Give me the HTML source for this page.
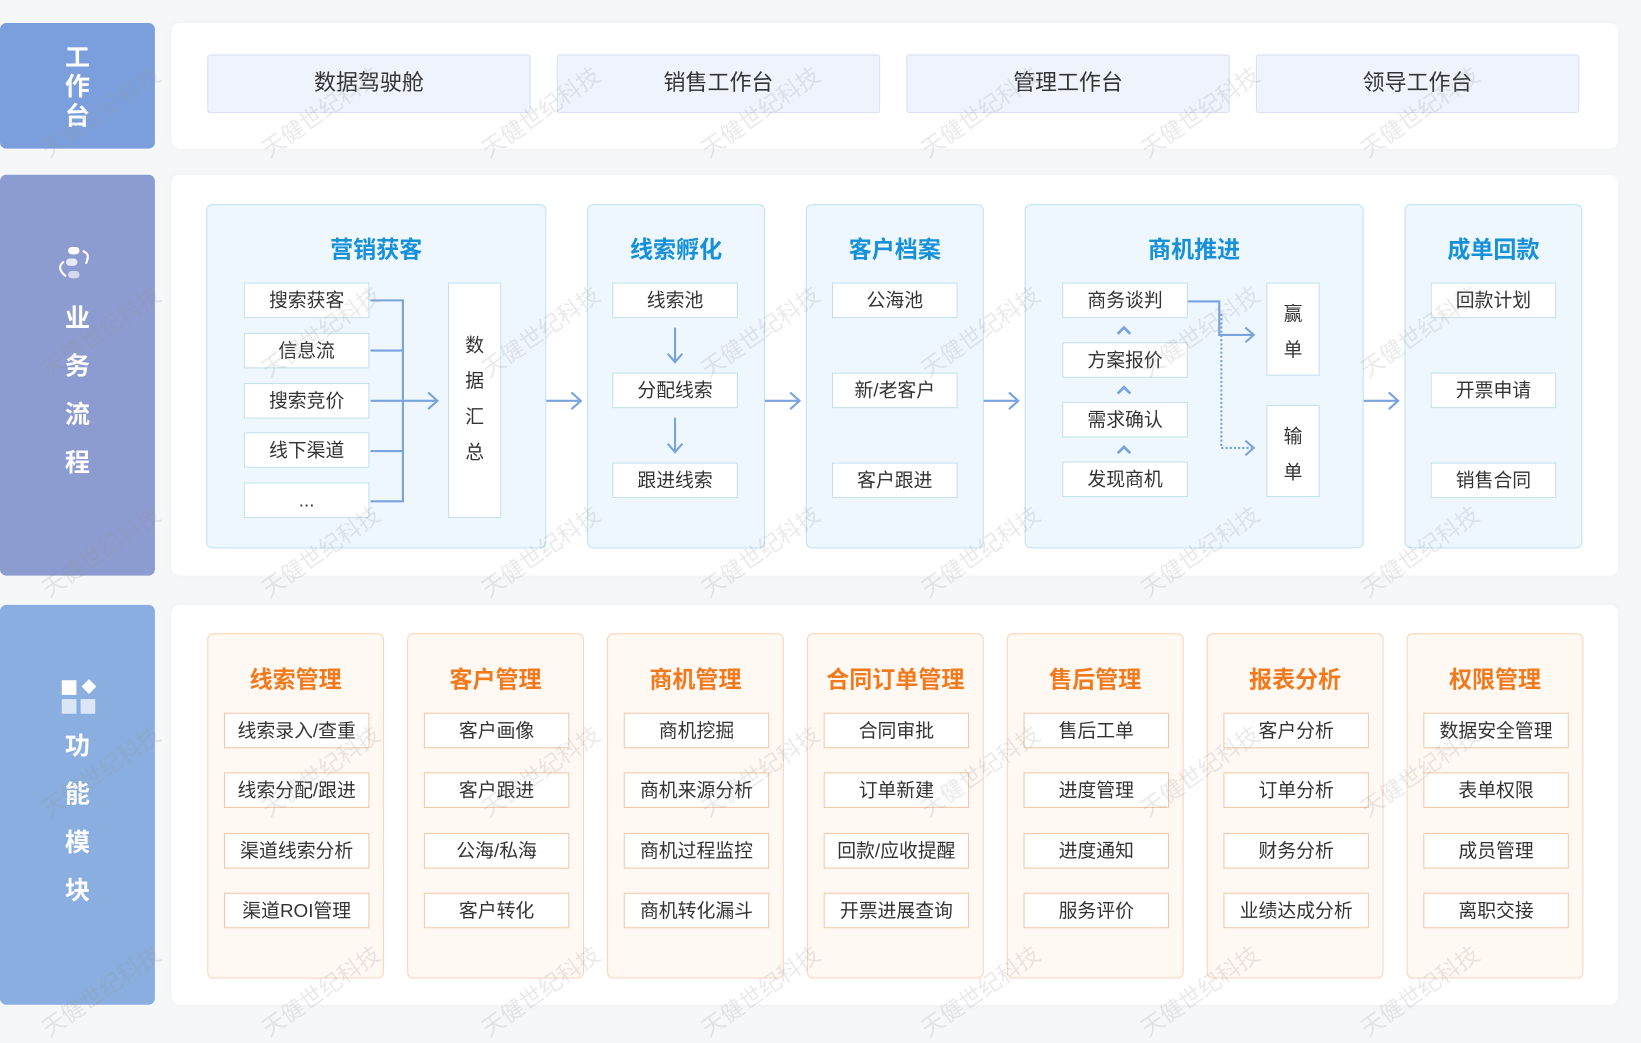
<!DOCTYPE html>
<html><head><meta charset="utf-8"><style>
*{margin:0;padding:0;box-sizing:border-box}
html,body{width:1641px;height:1029px;overflow:hidden;background:#f6f7f9}
#w{position:absolute;left:0;top:0;width:1568px;height:983px;transform:scale(1.04656);transform-origin:0 0;font-family:"Liberation Sans","Noto Sans CJK SC",sans-serif}
.a{position:absolute}
.side{position:absolute;left:0;width:148px;border-radius:6px;color:#fff;font-weight:bold;font-size:24px;text-align:center;line-height:46px}
.pan{position:absolute;left:164px;width:1382px;background:#fff;border-radius:8px;box-shadow:0 0 8px rgba(0,0,0,.03)}
.tab{position:absolute;top:52px;height:56px;width:309px;background:#eef3fc;border:1px solid #d7e1f4;border-radius:3px;font-size:21px;color:#333;text-align:center;line-height:54px}
.fb{position:absolute;top:195px;height:329px;background:#eef7fd;border:1px solid #bfe2f2;border-radius:6px}
.t{position:absolute;left:0;right:0;text-align:center;font-size:22px;font-weight:bold}
.t span{position:relative;display:inline-block;padding:0 4px}
.t span:after{content:"";position:absolute;left:-2px;right:-14px;bottom:1px;height:8px;border-radius:4px;z-index:-1}
.bt span{color:#1690d8}.bt span:after{background:linear-gradient(90deg,#8fd0f0,#e4f4fc)}
.ot span{color:#f27a1d}.ot span:after{background:linear-gradient(90deg,#fbc39a,#fff1e6)}
.it{position:absolute;width:120px;height:34px;background:#fff;border:1px solid #c3e0ef;font-size:18px;color:#333;text-align:center;line-height:32px}
.vb{position:absolute;background:#fff;border:1px solid #c3e0ef;font-size:18px;color:#333;text-align:center}
.ob{position:absolute;top:605px;height:330px;width:169px;background:#fff8f3;border:1px solid #fbd4b9;border-radius:6px}
.oi{position:absolute;left:15px;width:139px;height:34px;background:#fff;border:1px solid #f4c6a6;font-size:18px;color:#333;text-align:center;line-height:32px}
.wm{position:absolute;font-size:22px;color:rgba(150,150,150,.2);transform:rotate(-35deg);white-space:nowrap}
</style></head><body><div id="w">
<div class="side" style="top:22px;height:120px;background:#7b9fdc;padding-top:20px;line-height:28px">工<br>作<br>台</div>
<div class="side" style="top:167px;height:383px;background:#8c9bd0;padding-top:115px">业<br>务<br>流<br>程</div>
<div class="side" style="top:578px;height:382px;background:#8aaedf;padding-top:113px">功<br>能<br>模<br>块</div>
<svg class="a" style="left:52px;top:234px" width="40" height="36"><rect x="13" y="2" width="11" height="7" rx="3.5" fill="#fff"/><rect x="11" y="13" width="11" height="7" rx="3.5" fill="#e6e9f6"/><rect x="13" y="25" width="11" height="7" rx="3.5" fill="#d4d9ef"/><path d="M27 6 q8 2 3 12" stroke="#fff" stroke-width="2" fill="none"/><path d="M9 16 q-8 6 2 14" stroke="#fff" stroke-width="2" fill="none"/></svg>
<svg class="a" style="left:58px;top:649px" width="36" height="36"><rect x="1" y="1" width="14" height="14" fill="#fff"/><rect x="22" y="2" width="10" height="10" transform="rotate(45 27 7)" fill="#fff"/><rect x="1" y="19" width="14" height="14" fill="#dbe6f7"/><rect x="19" y="19" width="14" height="14" fill="#dbe6f7"/></svg>

<div class="pan" style="top:22px;height:120px"></div>
<div class="pan" style="top:167px;height:383px"></div>
<div class="pan" style="top:578px;height:382px"></div>

<div class="tab" style="left:198px">数据驾驶舱</div>
<div class="tab" style="left:532px">销售工作台</div>
<div class="tab" style="left:866px">管理工作台</div>
<div class="tab" style="left:1200px">领导工作台</div>

<div class="fb" style="left:197px;width:325px"><div class="t bt" style="top:25px"><span>营销获客</span></div></div>
<div class="fb" style="left:561px;width:170px"><div class="t bt" style="top:25px"><span>线索孵化</span></div></div>
<div class="fb" style="left:770px;width:170px"><div class="t bt" style="top:25px"><span>客户档案</span></div></div>
<div class="fb" style="left:979px;width:324px"><div class="t bt" style="top:25px"><span>商机推进</span></div></div>
<div class="fb" style="left:1342px;width:170px"><div class="t bt" style="top:25px"><span>成单回款</span></div></div>

<div class="it" style="left:233px;top:270px">搜索获客</div>
<div class="it" style="left:233px;top:318px">信息流</div>
<div class="it" style="left:233px;top:366px">搜索竞价</div>
<div class="it" style="left:233px;top:413px">线下渠道</div>
<div class="it" style="left:233px;top:461px">...</div>
<div class="vb" style="left:428px;top:270px;width:51px;height:225px;padding-top:42px;line-height:34px">数<br>据<br>汇<br>总</div>

<div class="it" style="left:585px;top:270px">线索池</div>
<div class="it" style="left:585px;top:356px">分配线索</div>
<div class="it" style="left:585px;top:442px">跟进线索</div>
<div class="it" style="left:795px;top:270px">公海池</div>
<div class="it" style="left:795px;top:356px">新/老客户</div>
<div class="it" style="left:795px;top:442px">客户跟进</div>
<div class="it" style="left:1015px;top:270px">商务谈判</div>
<div class="it" style="left:1015px;top:327px">方案报价</div>
<div class="it" style="left:1015px;top:384px">需求确认</div>
<div class="it" style="left:1015px;top:441px">发现商机</div>
<div class="vb" style="left:1210px;top:270px;width:51px;height:89px;padding-top:12px;line-height:34px">赢<br>单</div>
<div class="vb" style="left:1210px;top:387px;width:51px;height:88px;padding-top:12px;line-height:34px">输<br>单</div>
<div class="it" style="left:1367px;top:270px">回款计划</div>
<div class="it" style="left:1367px;top:356px">开票申请</div>
<div class="it" style="left:1367px;top:442px">销售合同</div>

<svg class="a" style="left:0;top:0" width="1568" height="983" fill="none" stroke="#79a3de" stroke-width="2">
<path d="M354 287H385V479H354M354 335H385M354 431H385M354 383H418M409 375l9 8-9 8"/>
<path d="M522 383H554M546 375l9 8-9 8M731 383H763M755 375l9 8-9 8M940 383H972M964 375l9 8-9 8M1303 383H1335M1327 375l9 8-9 8"/>
<path d="M645 313V346M638 338l7 8 7-8"/>
<path d="M645 399V432M638 424l7 8 7-8"/>
<path d="M1068 319l6-6 6 6M1068 376l6-6 6 6M1068 433l6-6 6 6" stroke-width="2.6"/>
<path d="M1135 288H1165V320H1197M1190 313l8 7-8 7M1190 421l8 7-8 7"/>
<path d="M1167 300V428H1196" stroke-dasharray="2 2"/>
</svg>

<div class="ob" style="left:198px"><div class="t ot" style="top:26px"><span>线索管理</span></div>
<div class="oi" style="top:75px">线索录入/查重</div><div class="oi" style="top:132px">线索分配/跟进</div><div class="oi" style="top:190px">渠道线索分析</div><div class="oi" style="top:247px">渠道ROI管理</div></div>
<div class="ob" style="left:389px"><div class="t ot" style="top:26px"><span>客户管理</span></div>
<div class="oi" style="top:75px">客户画像</div><div class="oi" style="top:132px">客户跟进</div><div class="oi" style="top:190px">公海/私海</div><div class="oi" style="top:247px">客户转化</div></div>
<div class="ob" style="left:580px"><div class="t ot" style="top:26px"><span>商机管理</span></div>
<div class="oi" style="top:75px">商机挖掘</div><div class="oi" style="top:132px">商机来源分析</div><div class="oi" style="top:190px">商机过程监控</div><div class="oi" style="top:247px">商机转化漏斗</div></div>
<div class="ob" style="left:771px"><div class="t ot" style="top:26px"><span>合同订单管理</span></div>
<div class="oi" style="top:75px">合同审批</div><div class="oi" style="top:132px">订单新建</div><div class="oi" style="top:190px">回款/应收提醒</div><div class="oi" style="top:247px">开票进展查询</div></div>
<div class="ob" style="left:962px"><div class="t ot" style="top:26px"><span>售后管理</span></div>
<div class="oi" style="top:75px">售后工单</div><div class="oi" style="top:132px">进度管理</div><div class="oi" style="top:190px">进度通知</div><div class="oi" style="top:247px">服务评价</div></div>
<div class="ob" style="left:1153px"><div class="t ot" style="top:26px"><span>报表分析</span></div>
<div class="oi" style="top:75px">客户分析</div><div class="oi" style="top:132px">订单分析</div><div class="oi" style="top:190px">财务分析</div><div class="oi" style="top:247px">业绩达成分析</div></div>
<div class="ob" style="left:1344px"><div class="t ot" style="top:26px"><span>权限管理</span></div>
<div class="oi" style="top:75px">数据安全管理</div><div class="oi" style="top:132px">表单权限</div><div class="oi" style="top:190px">成员管理</div><div class="oi" style="top:247px">离职交接</div></div>

<div class="wm" style="left:30px;top:90px">天健世纪科技</div><div class="wm" style="left:240px;top:90px">天健世纪科技</div><div class="wm" style="left:450px;top:90px">天健世纪科技</div><div class="wm" style="left:660px;top:90px">天健世纪科技</div><div class="wm" style="left:870px;top:90px">天健世纪科技</div><div class="wm" style="left:1080px;top:90px">天健世纪科技</div><div class="wm" style="left:1290px;top:90px">天健世纪科技</div>
<div class="wm" style="left:30px;top:300px">天健世纪科技</div><div class="wm" style="left:240px;top:300px">天健世纪科技</div><div class="wm" style="left:450px;top:300px">天健世纪科技</div><div class="wm" style="left:660px;top:300px">天健世纪科技</div><div class="wm" style="left:870px;top:300px">天健世纪科技</div><div class="wm" style="left:1080px;top:300px">天健世纪科技</div><div class="wm" style="left:1290px;top:300px">天健世纪科技</div>
<div class="wm" style="left:30px;top:510px">天健世纪科技</div><div class="wm" style="left:240px;top:510px">天健世纪科技</div><div class="wm" style="left:450px;top:510px">天健世纪科技</div><div class="wm" style="left:660px;top:510px">天健世纪科技</div><div class="wm" style="left:870px;top:510px">天健世纪科技</div><div class="wm" style="left:1080px;top:510px">天健世纪科技</div><div class="wm" style="left:1290px;top:510px">天健世纪科技</div>
<div class="wm" style="left:30px;top:720px">天健世纪科技</div><div class="wm" style="left:240px;top:720px">天健世纪科技</div><div class="wm" style="left:450px;top:720px">天健世纪科技</div><div class="wm" style="left:660px;top:720px">天健世纪科技</div><div class="wm" style="left:870px;top:720px">天健世纪科技</div><div class="wm" style="left:1080px;top:720px">天健世纪科技</div><div class="wm" style="left:1290px;top:720px">天健世纪科技</div>
<div class="wm" style="left:30px;top:930px">天健世纪科技</div><div class="wm" style="left:240px;top:930px">天健世纪科技</div><div class="wm" style="left:450px;top:930px">天健世纪科技</div><div class="wm" style="left:660px;top:930px">天健世纪科技</div><div class="wm" style="left:870px;top:930px">天健世纪科技</div><div class="wm" style="left:1080px;top:930px">天健世纪科技</div><div class="wm" style="left:1290px;top:930px">天健世纪科技</div>
</div></body></html>
